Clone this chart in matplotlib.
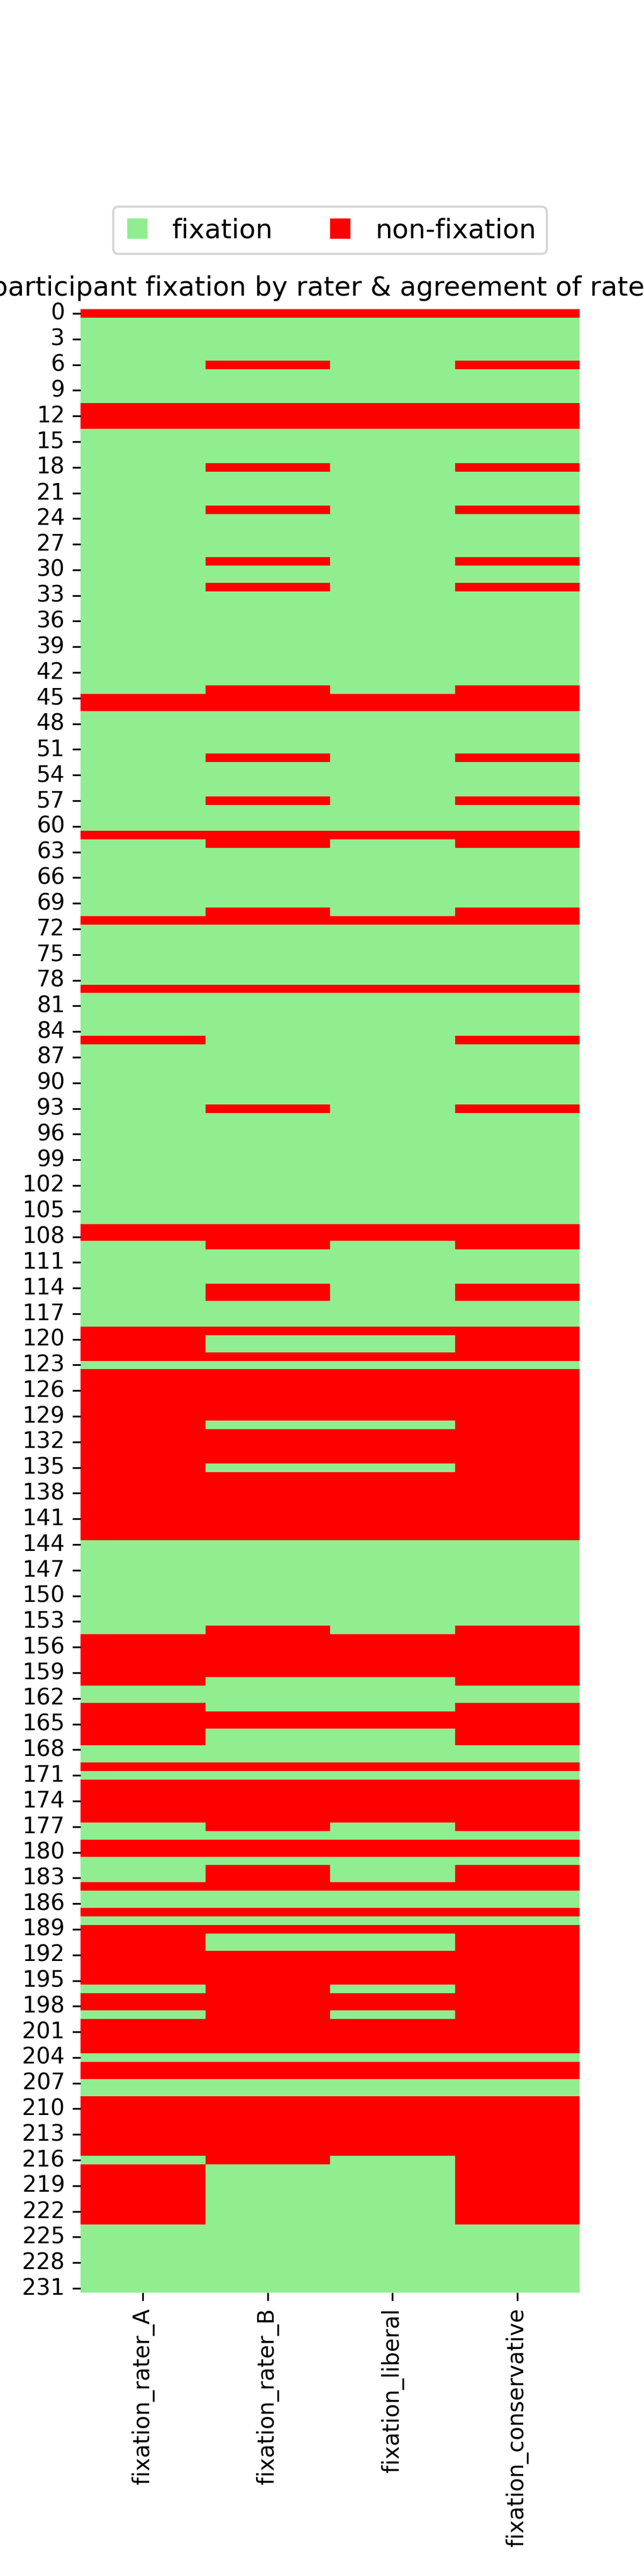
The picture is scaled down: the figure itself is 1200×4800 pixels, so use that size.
import numpy as np
import pandas as pd
import matplotlib
matplotlib.use("Agg")
import matplotlib.pyplot as plt
import seaborn as sns
from matplotlib.colors import ListedColormap
from matplotlib.lines import Line2D

n_participants = 232
columns = ["fixation_rater_A", "fixation_rater_B", "fixation_liberal", "fixation_conservative"]

# rows rated as non-fixation, per column
nonfix_rater_A = [0, 11, 12, 13, 45, 46, 61, 71, 79, 85, 107, 108, 119, 120, 121, 122,
                  124, 125, 126, 127, 128, 129, 130, 131, 132, 133, 134, 135, 136, 137,
                  138, 139, 140, 141, 142, 143, 155, 156, 157, 158, 159, 160, 163, 164,
                  165, 166, 167, 170, 172, 173, 174, 175, 176, 179, 180, 184, 187, 189,
                  190, 191, 192, 193, 194, 195, 197, 198, 200, 201, 202, 203, 205, 206,
                  209, 210, 211, 212, 213, 214, 215, 217, 218, 219, 220, 221, 222, 223]
nonfix_rater_B = [0, 6, 11, 12, 13, 18, 23, 29, 32, 44, 45, 46, 52, 57, 61, 62, 70, 71,
                  79, 93, 107, 108, 109, 114, 115, 119, 122, 124, 125, 126, 127, 128,
                  129, 131, 132, 133, 134, 136, 137, 138, 139, 140, 141, 142, 143, 154,
                  155, 156, 157, 158, 159, 164, 165, 170, 172, 173, 174, 175, 176, 177,
                  179, 180, 182, 183, 184, 187, 189, 192, 193, 194, 195, 196, 197, 198,
                  199, 200, 201, 202, 203, 205, 206, 209, 210, 211, 212, 213, 214, 215, 216]
nonfix_liberal = [0, 11, 12, 13, 45, 46, 61, 71, 79, 107, 108, 119, 122, 124, 125, 126,
                  127, 128, 129, 131, 132, 133, 134, 136, 137, 138, 139, 140, 141, 142,
                  143, 155, 156, 157, 158, 159, 164, 165, 170, 172, 173, 174, 175, 176,
                  179, 180, 184, 187, 189, 192, 193, 194, 195, 197, 198, 200, 201, 202,
                  203, 205, 206, 209, 210, 211, 212, 213, 214, 215]
nonfix_conservative = [0, 6, 11, 12, 13, 18, 23, 29, 32, 44, 45, 46, 52, 57, 61, 62, 70,
                       71, 79, 85, 93, 107, 108, 109, 114, 115, 119, 120, 121, 122, 124,
                       125, 126, 127, 128, 129, 130, 131, 132, 133, 134, 135, 136, 137,
                       138, 139, 140, 141, 142, 143, 154, 155, 156, 157, 158, 159, 160,
                       163, 164, 165, 166, 167, 170, 172, 173, 174, 175, 176, 177, 179,
                       180, 182, 183, 184, 187, 189, 190, 191, 192, 193, 194, 195, 196,
                       197, 198, 199, 200, 201, 202, 203, 205, 206, 209, 210, 211, 212,
                       213, 214, 215, 216, 217, 218, 219, 220, 221, 222, 223]

df = pd.DataFrame(0, index=range(n_participants), columns=columns)
for col, rows in zip(columns, [nonfix_rater_A, nonfix_rater_B, nonfix_liberal, nonfix_conservative]):
    df.loc[rows, col] = 1

plt.figure(figsize=(4, 16), dpi=300)
cmap = ListedColormap(["lightgreen", "red"])
ax = sns.heatmap(df, cmap=cmap, cbar=False, vmin=0, vmax=1, yticklabels=3)
ax.set_xticklabels(columns, rotation=90)
ax.set_title("participant fixation by rater & agreement of raters")

handles = [Line2D([0], [0], marker="s", color="w", markerfacecolor="lightgreen", markersize=10, label="fixation"),
           Line2D([0], [0], marker="s", color="w", markerfacecolor="red", markersize=10, label="non-fixation")]
ax.legend(handles=handles, loc="lower center", bbox_to_anchor=(0.5, 1.021), ncol=2,
          fontsize=12, handlelength=1)

plt.savefig("out.png", dpi=300)
plt.close()
